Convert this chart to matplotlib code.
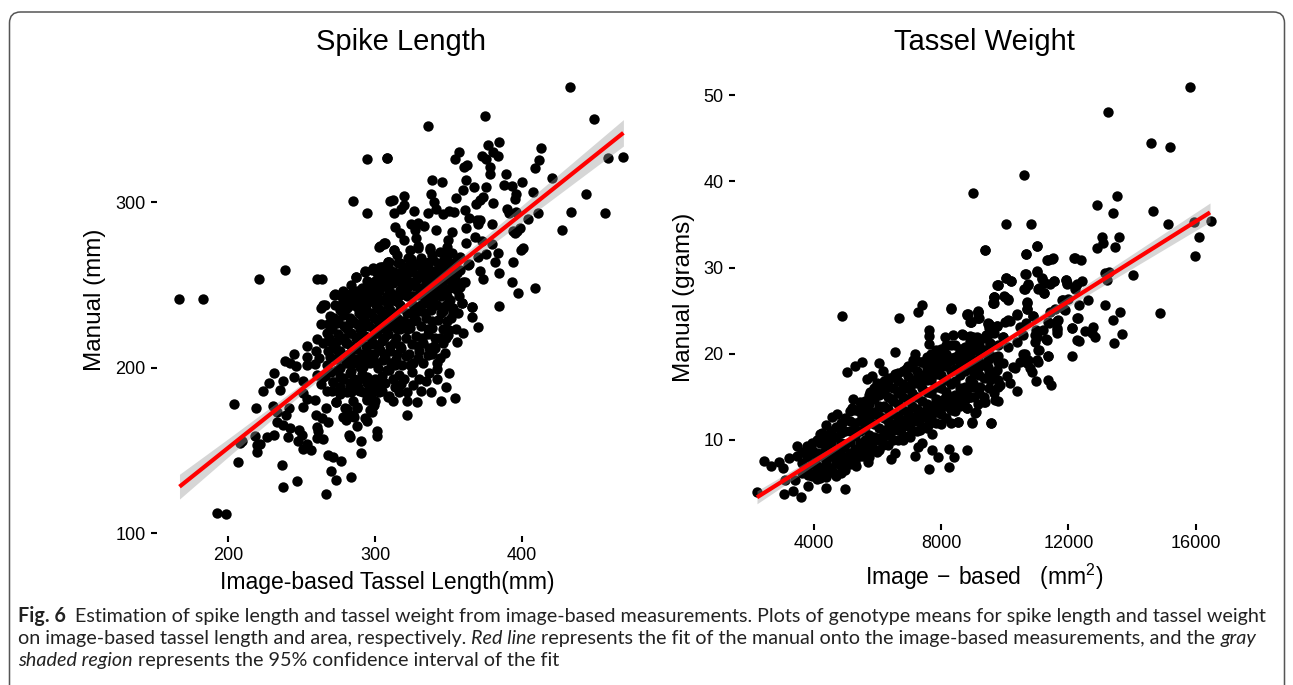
import numpy as np
import matplotlib
matplotlib.use('Agg')
import matplotlib.pyplot as plt
from matplotlib.patches import FancyBboxPatch
from matplotlib.transforms import IdentityTransform

plt.rcParams['font.family'] = ['Liberation Sans', 'DejaVu Sans']
plt.rcParams['mathtext.fontset'] = 'custom'
plt.rcParams['mathtext.rm'] = 'Liberation Sans'
plt.rcParams['mathtext.default'] = 'regular'

W, H = 1293, 685

# spike length, points
spike_outer = [
    (432.9,369.7),(375.1,352.2),(448.8,350.2),(336.3,346),(308.2,326.6),(458.8,326.6),(468.5,327.4),(384.6,336.3),
    (376.7,334.3),(412.9,332.9),(356.9,330.1),(354.7,326.2),(380,330),(383.9,327.8),(373,328),(375.5,326.2),
    (411.8,325.2),(409.1,320.8),(362.6,322.6),(360.8,321.4),(378,321.4),(378.5,316.8),(389.4,317.2),(420.4,314.3),
    (338.6,313.5),(345.4,312),(361.7,313.5),(400.2,312),(387.5,310),(393.2,309.7),(375.5,308.9),(367.1,309.3),
    (359.9,307.3),(407.7,305.9),(396.2,304.9),(395,301.7),(443.6,304.9),(338.1,304.7),(319.7,303.9),(312,301),
    (354.9,302.7),(373.7,302.9),(371.4,301.3),(368.5,298.8),(380,299.6),(340.1,300.2),(319.7,298.2),(317.5,296),
    (312.9,293.2),(326.5,294.6),(341.5,295.8),(336.3,293.6),(346,292.6),(350.3,294.4),(353.7,294.2),(361.2,295.2),
    (363.9,290.6),(369.2,289.2),(371.4,289.2),(370.3,286.6),(389.6,295.6),(390.9,293.2),(395.9,294.2),(411.1,293.2),
    (433.4,293.8),(456.7,293.2),(403.9,289.6),(379.4,287),(361.7,284.1),(341.3,283),(398.9,284.1),(396.8,282.5),
    (393.7,282.5),(395.2,281.1),(427.2,283.1),(352.1,281.9),(368,278.9),(372.8,276.5),(379.4,274.9),(361.9,275.5),
    (400.9,272.3),(399.3,270.8),(383.5,269.2),(375.3,268.6),(370.3,266.6),(381.6,263.8),(393.7,263.8),(384.6,257.3),
    (371.4,258.6),(373.3,253.3),(393.4,251.7),(397.5,245.3),(408.6,248.1),(384.1,237.4),(366.2,236.8),(360,251.9),
    (354.4,252.5),(357.8,248.9),(364.1,262.4),(357.8,259),(352.1,256),(166.5,241.4),(182.8,241.4),(221.3,253.5),
    (238.8,258.7),(260.7,253.5),(264.2,253.5),(272.3,244),(287,254.7),(285.2,300.8),(294.8,293.2),(294.6,326.2),
    (308,326.6),(310,300.8),(302.9,272.6),(306.3,275),(293.2,258.1),(297.8,258.9),(303.4,260.9),(309,263.9),
]
spike_upper = [
    (313.6,285.1),(317,281.5),(319.7,277),(324.3,286.7),(329.5,287.2),(333.3,285.5),(327.2,283.1),(327.9,278.1),
    (329.5,273.5),(306.1,274.7),(312.9,271),(337.4,272.1),(349.9,277.1),(348.8,273.1),(344.2,270),(339.7,265),
    (324.3,265.4),(309.1,264),(317,263),(326,261),(337.4,259),(331.8,255),(317,257),(310.2,259),(305.7,261),
    (321.5,253),(312.5,251),(306.8,249),(317,247),(310.2,240.8),(326,243),(353.3,252.9),(344.2,246.9),(336.3,240.8),
    (351,240.8),(359,238.8),(352.1,235.8),(348.8,265),(352.1,269),(357.8,267),(294.8,252.4),(296.6,244.8),(283,244.4),
    (287.6,241.8),(264.8,237.8),(301.1,257.1),(303.4,251),(309,248.8),(305.7,240.8),(292,238.8),
]
spike_lower = [
    (192.3,111.9),(198.8,111.5),(266.7,123.6),(237.6,127.6),(246.7,131.6),(283.4,133.9),(273.7,132.2),(270.3,137.5),
    (236.9,141.1),(207,142.7),(276.6,143.5),(271.6,146.1),(268.2,147),(290.2,148.6),(219.9,148.8),(219.5,153.4),
    (221.7,153.8),(208.1,154.2),(209.3,155.8),(218.1,158.8),(226.3,158.2),(231.3,159.2),(240.6,157.8),(247.8,155.4),
    (253.5,153.8),(251.2,150.8),(256.7,150),(290.2,155.4),(283,157.8),(282.5,159.2),(301.6,161.8),(301.6,158.8),
    (264.8,157),(260.3,157.2),(261.4,161.4),(260.3,164.3),(248.5,162.3),(250.1,159.2),(242.2,163.3),(237.6,165.3),
    (233.1,167.3),(239.4,171.3),(233.1,173.3),(230.8,176.8),(241.7,175.7),(219,175.3),(204,177.8),(251.2,176.3),
    (259.6,171.3),(266.4,175.7),(263.7,169.3),(267.8,167.3),(278.9,170.3),(280.7,175.1),(288,175.3),(283.4,170.9),
    (280.3,168.3),(287.5,164.7),(294.3,167.9),(285.7,169.9),(296.6,174.3),(299.3,177.4),(294.3,180.8),(273.5,179.2),
    (259.2,180.4),(253.5,180.8),(251.2,184.4),(267.1,186),(224,186),(228.1,190.5),(235.4,186.4),(237.6,192.1),
    (231.5,196.9),(244.9,194.1),(251.2,192.1),(260.3,195.5),(238.8,204.1),(242.2,202.5),(246.2,200.9),(245.1,208.2),
    (253.5,206.6),(253.5,201.5),(253.5,213.2),(259.6,210.2),(260.3,217),(263,226.3),(269.4,231.1),(263,235.8),
    (266,237.8),(278.4,231.7),(283,226.7),(273.9,226.7),(267.1,220.7),(264.8,214.6),(270.5,214.6),(269.4,206.6),
    (273.9,210.6),(280.7,214.6),(287.5,218.6),(292,224.7),(294.3,232.7),(287.5,236.8),(303.4,234.8),(301.1,220.7),
    (303.4,210.6),(308.4,198.5),(308.6,182.4),(303.4,190.5),(296.6,187.4),(288.6,186.4),(283,189.4),(276.2,188.4),
    (271.6,191.5),(278.4,193.5),(288.6,192.5),(294.3,194.5),(292,200.5),(285.2,202.5),(294.3,206.6),(280.7,204.5),
    (273.9,198.5),(264.8,194.5),(267.1,201.5),(283,220.7),(298.9,214.6),(305.7,204.5),(305.7,228.7),
]
spike_core = [
    (272.6,244.2),(287.1,254.8),(293.2,257.9),(298.9,259.9),(304.6,260.9),(309.8,263.9),(315.9,262.9),(322.7,265.9),
    (303.4,273.4),(306.8,275),(313.2,271),(323.8,271),(329.5,272),(337.4,271),(346.5,269),(355.6,265),(363.5,262),
    (295.5,251.8),(283,243.8),(286.4,240.7),(292.1,237.7),(298.9,246.8),(296.6,242.8),(305.7,250.8),(312.5,252.8),
    (320.4,254.8),(328.4,255.9),(335.2,257.9),(342,258.9),(348.8,259.9),(354.5,252.8),(361.3,251.8),(355.6,246.8),
    (359,238.7),(366.2,236.7),(353.3,235.7),(351.5,229.7),(356.7,232.7),(365.8,230.3),(370.3,224.2),(360.1,221),
    (350.6,222.6),(349.9,219.6),(356,215.6),(346,214.6),(340.8,211.5),(347.6,208.5),(344.2,205.5),(336.3,207.5),
    (329.5,205.5),(323.8,201.5),(318.2,201.5),(313.6,201.5),(309.8,198.5),(316.6,195.4),(325,197.4),(337,196.4),
    (334.7,192),(350.4,196.4),(348.1,188.2),(326.1,189.2),(354.4,181.3),(328.8,178.9),(309.8,182.7),(313.6,188),
    (306.8,190.4),(298.9,187.4),(294.3,190.4),(288.7,188.4),(283,190.4),(276.2,188.4),(271.7,191.4),(322,171.3),
    (302.3,199.5),(296.6,202.5),(289.8,200.5),(283,196.4),(276.2,194.4),(294.3,180.3),(298.9,176.9),(297.8,173.3),
    (287.5,176.3),(279.6,175.3),(273.5,178.9),(278.5,170.3),(285.3,171.3),(293.2,169.3),
    (288,205),(299,204),(307,206),(314,205),(321,207),(330,210),(337,212),(276,210),(287,211),(295,209),(303,211),
    (310,210),(318,212),(325,214),(333,215),(280,215),(290,216),(298,214),(305,216),(313,215),(321,218),(328,219),
    (336,220),(344,218),(275,220),(284,221),(293,219),(301,221),(309,220),(317,223),(324,224),(331,225),(339,224),
    (279,225),(288,226),(296,225),(304,226),(312,225),(320,228),(328,229),(335,230),(343,229),(283,230),(291,231),
    (299,230),(307,231),(315,230),(322,233),(330,234),(338,235),(346,234),(294,235),(302,236),(310,235),(318,236),
    (326,238),(334,239),(342,238),(281,236),(298,240),(306,241),(314,240),(322,243),(329,244),(337,245),(345,243),
    (288,246),(303,246),(311,245),(319,248),(327,249),(335,251),(343,250),(351,248),(300,252),(308,254),(316,252),
    (324,250),(332,247),(340,254),(348,254),(356,257),(305,256),(313,258),(321,259),(329,262),(337,264),(345,262),
    (352,261),(315,268),(323,262),(331,266),(339,268),(347,265),
]
spike_core_extra = [
    (280,203),(292,203),(301,203),(311,203),(326,203),(333,203),(342,203),(283,208),(291,208),(299,208),(306,208),(315,208),
    (323,208),(339,208),(272,213),(284,213),(294,213),(302,213),(310,213),(317,213),(329,213),(340,213),(279,218),(287,218),
    (297,218),(306,218),(314,218),(332,218),(341,218),(348,218),(271,223),(281,223),(290,223),(299,223),(307,223),(315,223),
    (322,223),(336,223),(346,223),(355,223),(275,228),(285,228),(293,228),(302,228),(310,228),(318,228),(326,228),(339,228),
    (349,228),(279,233),(289,233),(297,233),(305,233),(313,233),(325,233),(334,233),(345,233),(353,233),(277,238),(284,238),
    (294,238),(301,238),(309,238),(317,238),(331,238),(340,238),(348,238),(277,243),(291,243),(301,243),(308,243),(316,243),
    (325,243),(333,243),(341,243),(349,243),(357,243),(293,248),(300,248),(309,248),(322,248),(331,248),(339,248),(347,248),
    (302,253),(311,253),(319,253),(328,253),(337,253),(346,253),(351,253),(306,258),(318,258),(324,258),(332,258),(339,258),
    (345,258),(326,263),(334,263),(343,263),(351,263),(278,193),(286,193),(293,193),(300,193),(312,193),(320,193),(330,193),
    (342,193),(281,185),(292,185),(303,185),(316,185),(322,185),(338,185),(285,180),(300,180),(312,180),(322,180),(345,180),
    (270,197),(276,200),(284,198),(291,196),(298,192),(305,195),(318,190),(331,186),(342,199),(274,205),(282,208),(290,186),
    (297,183),(305,186),(274,216),(268,210),(269,218),(276,184),(284,185),(271,186),(263,190),(266,195),(259,202),(262,206),
    (272,230),(268,226),(276,235),(281,240),(273,238),(291,248),(284,250),(278,246),
]

spike_fit_x = [167, 200, 250, 300, 350, 400, 469]
spike_fit_y = [128, 151.4, 186.8, 222.2, 257.5, 292.9, 341.8]
spike_ci_hi = [135.5, 156.9, 189.8, 224, 260.5, 297.9, 349.8]
spike_ci_lo = [120.5, 145.9, 183.8, 220.4, 254.5, 287.9, 333.8]

# tassel weight, points
tassel_upper = [
    (15832,51),(13235,48),(14586,44.5),(15193,44),(10618,40.8),(9005,38.7),(13518,38.3),(12890,37.3),(13403,36.3),
    (14659,36.6),(10031,35.1),(10817,35.1),(15130,35.1),(15936,35.3),(16481,35.4),(16115,33.6),(15978,31.3),
    (13068,33.6),(13581,33.6),(13078,32.8),(12890,32.3),(13466,32.4),(9382,32),(10660,31.6),(11005,32.5),(11340,30.9),
    (11487,31),(12188,31.1),(12408,30.9),(13151,29.4),(13277,29.5),(13204,28.6),(14020,29.1),(11026,29.6),(10660,29.3),
    (11162,28.7),(10031,28.8),(10188,28.4),(9780,28),(10733,28),(10639,27.5),(11089,27.6),(11246,27.1),(11424,28.1),
    (11560,28.4),(11916,28.6),(11947,28.2),(12419,28.5),(12262,28.1),(12209,27.5),(9675,26.6),(9644,25.9),(9979,26.7),
    (10115,26.3),(10712,26),(10691,25.2),(11790,26.2),(12000,26.4),(12607,26.2),(12345,25.7),(13151,25.7),(13633,24.8),
    (14869,24.7),(13392,23.9),(12282,24.1),(11581,25.2),(11424,24.9),(11864,25.2),(10398,24.5),(10900,24.4),(9162,24.9),
    (8827,24.5),(9173,24.2),(8932,23.7),(9497,23.5),(9518,23),(9770,23.2),(10010,23.7),(10168,23.8),(10660,23.6),
    (10482,23.1),(10984,22.8),(11215,22.8),(11654,23.8),(11403,23.6),(11633,23),(11654,22.4),(12115,23),(12523,22.6),
    (12785,23.1),(12837,22),(12733,22.4),(13696,22.3),(12345,21.5),(13424,21.3),(11298,21.7),(11026,22),(10953,21.4),
    (10586,22.2),(10377,21.4),(9958,22),(9414,22.2),(9016,22),(8681,22.2),(9068,20.8),(8859,20.5),(9539,21),(10115,20.8),
    (11078,20.4),(11371,19.7),(12115,19.7),(10586,20),(10743,19.3),(11058,19.1),(10482,19.1),(9801,19.7),(9487,19.3),
    (9958,18.9),(10272,18.5),(9382,18.7),(8963,18.3),(8754,19.1),(10796,18.3),
    (11372,19.7),(11006,19.3),(10692,18.9),(10849,17.9),(10985,16.9),(11372,17),(11445,16.4),(10398,15.7),(9802,14.5),
    (9383,14.4),(9571,12),(9069,13.1),(8964,12.1),(8807,13.7),(8545,12.1),(10063,17.4),(10168,16.6),(9854,16.4),(10325,18.3),
]
tassel_lower = [
    (2223,4),(2432,7.6),(2652,7),(2924,7.4),(3050,6.8),(3228,7.9),(3469,9.3),(3490,8.1),(3102,5.4),(3417,5.4),(3082,3.7),
    (3343,4.1),(3605,3.4),(3814,4.7),(4380,4.4),(4998,4.3),(4202,5.6),(4390,5.7),(3835,5.9),(3626,7.3),(3783,8.3),(3940,8.8),
    (4202,10.7),(4390,11.7),(4568,12.7),(4725,13),(4882,12),(4202,9.6),(4464,10.4),(4307,8.5),(4621,8.8),(4045,7.5),(4642,6.2),
    (4830,7.1),(5322,7),(5720,7.4),(6421,7.8),(6558,8.5),(7186,8.1),(7290,9.2),(7395,9.7),(7709,8.8),(7908,8),(8254,9),(8411,8),
    (8809,8.8),(7625,6.6),(8254,6.9),(7730,10.7),(9583,12),(8966,12),(9091,13.2),(8809,13.7),(9363,14.4),(9165,14.2),(8547,12.1),
    (8316,12),(8002,11.9),(7625,11.9),(7343,11.2),(7029,10.4),(6819,10),(6191,9.4),(5982,8.6),(5563,8.1),(5249,8.5),(4882,24.4),
    (6683,24.1),(7280,24.8),(7395,25.7),(8306,25.2),(5050,17.9),(5301,18.6),(5531,19),(6044,18.9),(6170,18),(5689,17.1),(5825,17.4),
    (5982,16.6),(5772,15.6),(6034,15.4),(5249,14.8),(5197,13.7),(5542,13.7),(6558,20.2),(7186,20),(7113,19.3),(7395,19),(7604,19.4),
    (6348,16.8),(6558,17.7),(6893,18.2),(7290,17.5),(7730,18.3),(7636,22.8),(7636,22.1),(7636,21.1),(8128,21.9),(8390,22.2),
    (8652,22.3),(8913,22.1),(9123,22),(8830,24.6),(8913,23.7),(9175,24.9),(9196,24.1),(9489,23.6),(9751,23.2),(9667,25.9),(9667,26.6),
    (9751,28),(9437,22),(9542,21.2),(8840,20.4),(7919,20),(8128,19.9),(8338,19.3),(7971,18.9),(8495,18.1),(9018,19.3),(9228,20),
    (9489,18.5),(9175,18.3),(9542,17),(9751,18.1),(9803,16.2),(9699,14.6),(9228,16.2),(8913,15),(8547,14.8),(9018,16.6),
    (10639,20),(11058,20.4),(11320,21.6),(10953,22.2),(11634,22.8),(12105,23),(12314,24.1),(11686,23.9),(11372,23.7),(10901,24.4),
    (10398,24.6),(10116,23.9),(9488,23.5),(9959,22),(9435,22.2),(10692,25.9),(10692,25.2),(9676,26.6),(9645,25.9),(10011,26.6),
    (10116,26.2),(9781,28),(10043,28.8),(10189,28.4),(10639,29.3),(10723,28.1),(10618,27.5),(11027,29.5),(11163,28.8),(11267,28.2),
    (11550,28.4),(11058,27.5),(11246,27.1),(11917,28.6),(11948,28.1),(12210,31.1),(11372,30.9),(11508,31.1),(10660,31.6),(11006,32.5),
    (9383,32),(8838,24.6),(9173,25),(8933,23.7),(9173,24.2),(8304,25.3),(12210,27.8),(11843,26.2),(11896,25.1),(12262,21.6),
]
tassel_core = [
    (3800,6.5),(3800,8),(3800,9.3),(4100,5.5),(4100,7),(4100,8.5),(4100,10),(4400,6),(4400,7.5),(4400,9),(4400,10.5),
    (4700,5.8),(4700,7.3),(4700,8.8),(4700,10.3),(4700,11.5),(5000,6.5),(5000,8),(5000,9.5),(5000,11),(5000,12.5),
    (5300,7.5),(5300,9),(5300,10.5),(5300,12),(5300,13.5),(5600,8.5),(5600,10),(5600,11.5),(5600,13),(5600,14.5),
    (5900,8.8),(5900,10.3),(5900,11.8),(5900,13.3),(5900,14.8),(5900,16),(6200,9.5),(6200,11),(6200,12.5),(6200,14),
    (6200,15.5),(6200,16.8),(6500,10),(6500,11.5),(6500,13),(6500,14.5),(6500,16),(6500,17.3),(6800,10.5),(6800,12),
    (6800,13.5),(6800,15),(6800,16.5),(6800,18),(7100,11),(7100,12.5),(7100,14),(7100,15.5),(7100,17),(7100,18.5),
    (7400,11.5),(7400,13),(7400,14.5),(7400,16),(7400,17.5),(7400,19),(7700,12.5),(7700,14),(7700,15.5),(7700,17),
    (7700,18.5),(7700,20),(8000,13),(8000,14.5),(8000,16),(8000,17.5),(8000,19),(8000,20.5),(8300,13.5),(8300,15),
    (8300,16.5),(8300,18),(8300,19.5),(8300,21),(8600,14),(8600,16),(8600,17.5),(8600,19),(8600,20.5),(8900,15),(8900,17),
    (8900,18.5),(8900,20),(8900,21.5),(9200,15.5),(9200,17.5),(9200,19),(9200,21),(9500,16),(9500,18),(9500,20),
    (9800,17),(9800,19),(9800,21),
    (3950,7.2),(4250,8.2),(4550,6.8),(4550,9.6),(4850,8.3),(4850,10.8),(5150,7.2),(5150,9.8),(5150,12.2),(5450,8.2),(5450,11),
    (5450,13.2),(5750,9.2),(5750,12.2),(5750,14.2),(6050,10),(6050,12.8),(6050,15.2),(6350,10.6),(6350,13.6),(6350,16.2),
    (6650,11.2),(6650,14.2),(6650,16.8),(6950,11.6),(6950,14.6),(6950,17.4),(7250,12.2),(7250,15),(7250,18),(7550,12.6),(7550,15.6),
    (7550,18.4),(7850,13.2),(7850,16.2),(7850,19),(8150,14),(8150,17),(8150,20),(8450,15.2),(8450,18.2),(8750,16.2),(8750,19.6),
    (9050,17.6),(9050,20.4),(9350,17.2),(9350,20.4),
]
tassel_core_extra = [
    (3650,6.2),(3650,8.6),(3950,5.8),(3950,8.5),(3950,9.7),(4250,6.3),(4250,9.6),(4250,10.8),(4550,8.2),(4550,11),(4850,6.2),
    (4850,7.2),(4850,9.6),(4850,12),(5150,8.5),(5150,11),(5150,13.4),(5450,9.6),(5450,12.2),(5450,14.4),(5750,8),(5750,10.6),
    (5750,13.2),(5750,15.2),(6050,8.8),(6050,11.4),(6050,14),(6050,16.2),(6350,9.4),(6350,12.2),(6350,15),(6350,17.2),(6650,10),
    (6650,12.8),(6650,15.4),(6650,17.8),(6950,10.5),(6950,13.2),(6950,16),(6950,18.6),(7250,11),(7250,13.6),(7250,16.6),(7250,19.2),
    (7550,11.4),(7550,14.2),(7550,17),(7550,19.6),(7850,12),(7850,14.8),(7850,17.6),(7850,20.4),(8150,12.6),(8150,15.6),(8150,18.6),
    (8150,21),(8450,13.4),(8450,16.8),(8450,19.6),(8450,21),(8750,14.6),(8750,18),(8750,20.8),(9050,15),(9050,19),(9050,21.4),
    (9350,15),(9350,18.7),(9350,21.8),(9650,15.4),(9650,17.4),(9650,19.6),(9650,22.4),
    (5200,7.8),(5350,8.4),(5500,9.2),(5650,9.4),(5850,9.8),(6000,10.2),(6150,10.4),(6300,11.3),(6450,11),(6600,12),(6750,11.3),
    (6900,12.4),(7050,12),(7200,12.8),(7350,12.4),(7500,13.4),(7650,13.2),(7800,14),(7950,13.8),(8100,14.8),(8250,14.2),(8400,14.4),
    (8550,15.2),(8700,15.4),(8850,16),(9000,16.2),(5250,11.2),(5550,12.4),(5850,13),(6150,13.8),(6450,14.8),(6750,15.8),(7050,16.4),
    (7350,17),(7650,17.6),(7950,18.4),(8250,19.2),(8550,20),(8850,20.6),(9250,20.4),(4950,9.2),(4650,8),(4350,7),(4050,6.2),
]

tassel_fit_x = [2222, 5000, 7500, 10000, 13000, 16447]
tassel_fit_y = [3.35, 9.8, 15.6, 21.4, 28.4, 36.4]
tassel_ci_hi = [4.1, 10.1, 15.85, 21.8, 29.1, 37.5]
tassel_ci_lo = [2.6, 9.5, 15.35, 21.0, 27.7, 35.3]


def add_axes_px(fig, left, right, top, bottom):
    return fig.add_axes([left / W, 1 - bottom / H, (right - left) / W, (bottom - top) / H])


def draw_panel(ax, pts, fit_x, fit_y, lo, hi, xticks, yticks):
    xs, ys = zip(*pts)
    ax.scatter(xs, ys, s=56, color='black', linewidths=0, zorder=2)
    ax.fill_between(fit_x, lo, hi, color='#999999', alpha=0.4, linewidth=0, zorder=3)
    ax.plot(fit_x, fit_y, color='#ff0000', lw=3, solid_capstyle='butt', zorder=4)
    for s in ax.spines.values():
        s.set_visible(False)
    ax.set_xticks(xticks)
    ax.set_yticks(yticks)
    ax.tick_params(length=4.2, width=1.5, labelsize=13, pad=4)


fig = plt.figure(figsize=(W / 100, H / 100), dpi=100, facecolor='white')

ax1 = add_axes_px(fig, 157, 645, 65, 536)
draw_panel(ax1, spike_outer + spike_upper + spike_lower + spike_core + spike_core_extra,
           spike_fit_x, spike_fit_y, spike_ci_lo, spike_ci_hi, [200, 300, 400], [100, 200, 300])
ax1.set_xlim(151.7, 483.7)
ax1.set_ylim(98.2, 382.8)

ax2 = add_axes_px(fig, 735, 1233, 66, 524)
draw_panel(ax2, tassel_upper + tassel_lower + tassel_core + tassel_core_extra,
           tassel_fit_x, tassel_fit_y, tassel_ci_lo, tassel_ci_hi, [4000, 8000, 12000, 16000], [10, 20, 30, 40, 50])
ax2.set_xlim(8000 + (735 - 941) * 31.4, 8000 + (1233 - 941) * 31.4)
ax2.set_ylim(10 - (524 - 440) / 8.62, 10 + (440 - 66) / 8.62)


def label(x, y, s, size, **kw):
    return fig.text(x / W, 1 - y / H, s, fontsize=size, ha='center', va='center', **kw)


label(401, 42, 'Spike Length', 21)
label(984, 42, 'Tassel Weight', 21)
label(387, 582, 'Image-based Tassel Length(mm)', 16.5)
label(984, 577, r'Image$\,-\,$based   (mm$^2$)', 16.5)
label(95, 300, 'Manual (mm)', 17.5, rotation=90)
label(684, 297, 'Manual (grams)', 17.5, rotation=90)

# frame around figure, open past the bottom edge
fig.add_artist(FancyBboxPatch((9.5, -40), 1275, 713, boxstyle='round,pad=0,rounding_size=11',
                              transform=IdentityTransform(), fc='none', ec='#555555', lw=1.1))

# caption
cap_font = 'Lato'
cap_size = 14.2
renderer = fig.canvas.get_renderer()


def caption_line(x, y, runs):
    for s, gap, kw in runs:
        t = fig.text(x / W, 1 - y / H, s, fontsize=cap_size, family=[cap_font, 'DejaVu Sans'],
                     color='#222222', va='baseline', **kw)
        x = t.get_window_extent(renderer).x1 + gap


caption_line(18, 622, [('Fig. 6', 9, dict(fontweight='bold')),
                       ('Estimation of spike length and tassel weight from image-based measurements. Plots of genotype means for spike length and tassel weight', 0, {})])
caption_line(18, 644, [('on image-based tassel length and area, respectively.', 5, {}),
                       ('Red line', 5, dict(style='italic')),
                       ('represents the fit of the manual onto the image-based measurements, and the', 5, {}),
                       ('gray', 0, dict(style='italic'))])
caption_line(18, 666, [('shaded region', 5, dict(style='italic')),
                       ('represents the 95% confidence interval of the fit', 0, {})])

fig.savefig('out.png', dpi=100)
